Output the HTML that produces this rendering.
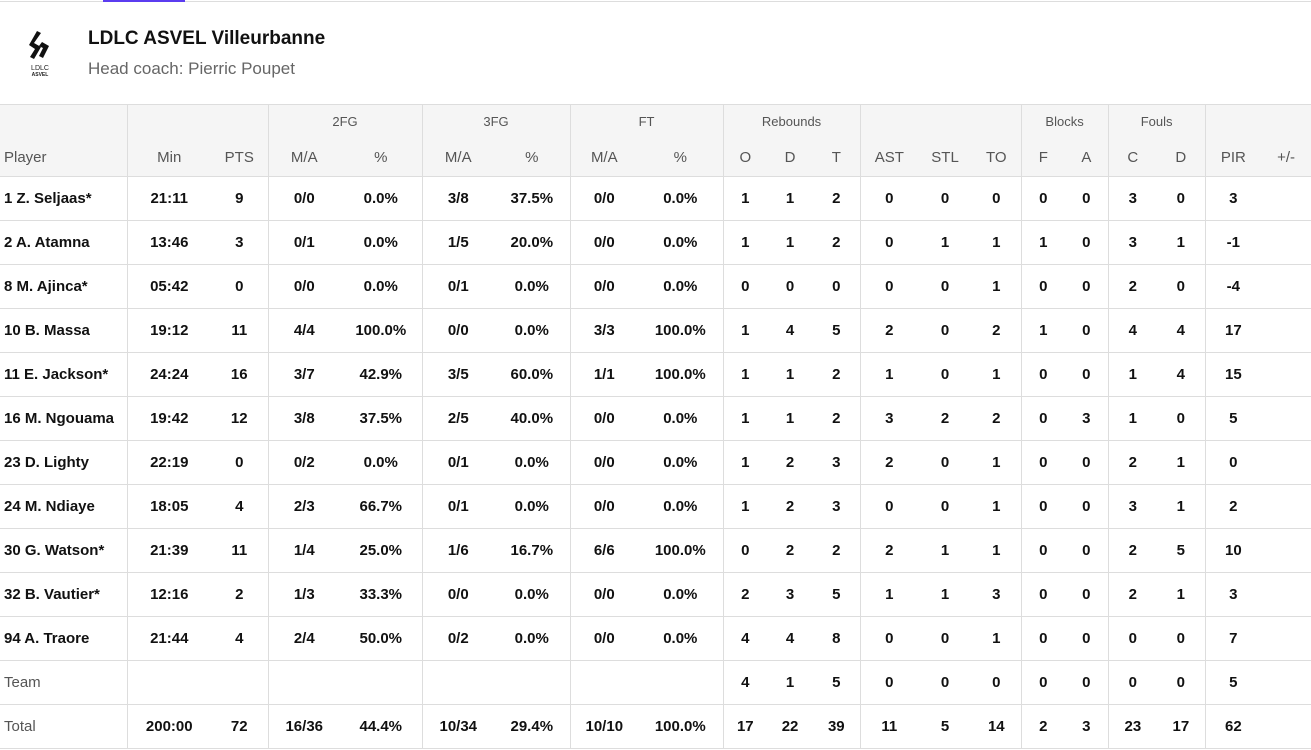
<!DOCTYPE html>
<html><head><meta charset="utf-8">
<style>
*{margin:0;padding:0;box-sizing:border-box}
body{width:1311px;height:750px;background:#fff;font-family:"Liberation Sans",sans-serif;position:relative;overflow:hidden;color:#111}
.topline{position:absolute;left:0;top:1px;width:1311px;height:1px;background:#ddd}
.purple{position:absolute;left:103px;top:0;width:82px;height:2px;background:#5b3cf0}
.title{position:absolute;left:88px;top:28px;font-size:19px;font-weight:bold;color:#111}
.sub{position:absolute;left:88px;top:59px;font-size:17px;color:#666}
table{position:absolute;left:0;top:104px;border-collapse:collapse;table-layout:fixed;width:1311px}
td{text-align:center;font-size:15px;font-weight:bold;height:44px;border-bottom:1px solid #ddd;white-space:nowrap;padding:0}
tr.h td{background:#f5f5f5;font-weight:normal;color:#555;height:38px;font-size:15px}
tr.g td{background:#f5f5f5;font-weight:normal;color:#555;height:34px;font-size:13px;border-bottom:none;border-top:1px solid #ddd}
td.l{text-align:left;padding-left:4px}
td.s{border-left:1px solid #ddd}
td.n{font-weight:normal;color:#555}
</style></head><body>
<div class="topline"></div><div class="purple"></div>
<svg style="position:absolute;left:20px;top:28px" width="40" height="52" viewBox="0 0 40 52">
<polygon points="17,3 21,5 14,15 21,19 14,31 10,29 15,21 9,17" fill="#111"/>
<polygon points="22,14 29,18 23,30 19,28 23,20 19,18" fill="#111"/>
<text x="20" y="42" font-size="7" text-anchor="middle" font-family="Liberation Sans" fill="#222">LDLC</text>
<text x="20" y="48" font-size="5" font-weight="bold" text-anchor="middle" font-family="Liberation Sans" fill="#222">ASVEL</text>
</svg>
<div class="title">LDLC ASVEL Villeurbanne</div>
<div class="sub">Head coach: Pierric Poupet</div>
<table>
<colgroup><col style="width:127px"><col style="width:84px"><col style="width:57px"><col style="width:72px"><col style="width:82px"><col style="width:72px"><col style="width:76px"><col style="width:68px"><col style="width:85px"><col style="width:44px"><col style="width:46px"><col style="width:47px"><col style="width:58px"><col style="width:54px"><col style="width:49px"><col style="width:44px"><col style="width:43px"><col style="width:49px"><col style="width:48px"><col style="width:56px"><col style="width:50px"></colgroup>
<tr class="g"><td></td><td class="s" colspan="2"></td><td class="s" colspan="2">2FG</td><td class="s" colspan="2">3FG</td><td class="s" colspan="2">FT</td><td class="s" colspan="3">Rebounds</td><td class="s" colspan="3"></td><td class="s" colspan="2">Blocks</td><td class="s" colspan="2">Fouls</td><td class="s" colspan="2"></td></tr>
<tr class="h"><td class="l">Player</td><td class="s">Min</td><td>PTS</td><td class="s">M/A</td><td>%</td><td class="s">M/A</td><td>%</td><td class="s">M/A</td><td>%</td><td class="s">O</td><td>D</td><td>T</td><td class="s">AST</td><td>STL</td><td>TO</td><td class="s">F</td><td>A</td><td class="s">C</td><td>D</td><td class="s">PIR</td><td>+/-</td></tr>
<tr><td class="l">1 Z. Seljaas*</td><td class="s">21:11</td><td>9</td><td class="s">0/0</td><td>0.0%</td><td class="s">3/8</td><td>37.5%</td><td class="s">0/0</td><td>0.0%</td><td class="s">1</td><td>1</td><td>2</td><td class="s">0</td><td>0</td><td>0</td><td class="s">0</td><td>0</td><td class="s">3</td><td>0</td><td class="s">3</td><td></td></tr>
<tr><td class="l">2 A. Atamna</td><td class="s">13:46</td><td>3</td><td class="s">0/1</td><td>0.0%</td><td class="s">1/5</td><td>20.0%</td><td class="s">0/0</td><td>0.0%</td><td class="s">1</td><td>1</td><td>2</td><td class="s">0</td><td>1</td><td>1</td><td class="s">1</td><td>0</td><td class="s">3</td><td>1</td><td class="s">-1</td><td></td></tr>
<tr><td class="l">8 M. Ajinca*</td><td class="s">05:42</td><td>0</td><td class="s">0/0</td><td>0.0%</td><td class="s">0/1</td><td>0.0%</td><td class="s">0/0</td><td>0.0%</td><td class="s">0</td><td>0</td><td>0</td><td class="s">0</td><td>0</td><td>1</td><td class="s">0</td><td>0</td><td class="s">2</td><td>0</td><td class="s">-4</td><td></td></tr>
<tr><td class="l">10 B. Massa</td><td class="s">19:12</td><td>11</td><td class="s">4/4</td><td>100.0%</td><td class="s">0/0</td><td>0.0%</td><td class="s">3/3</td><td>100.0%</td><td class="s">1</td><td>4</td><td>5</td><td class="s">2</td><td>0</td><td>2</td><td class="s">1</td><td>0</td><td class="s">4</td><td>4</td><td class="s">17</td><td></td></tr>
<tr><td class="l">11 E. Jackson*</td><td class="s">24:24</td><td>16</td><td class="s">3/7</td><td>42.9%</td><td class="s">3/5</td><td>60.0%</td><td class="s">1/1</td><td>100.0%</td><td class="s">1</td><td>1</td><td>2</td><td class="s">1</td><td>0</td><td>1</td><td class="s">0</td><td>0</td><td class="s">1</td><td>4</td><td class="s">15</td><td></td></tr>
<tr><td class="l">16 M. Ngouama</td><td class="s">19:42</td><td>12</td><td class="s">3/8</td><td>37.5%</td><td class="s">2/5</td><td>40.0%</td><td class="s">0/0</td><td>0.0%</td><td class="s">1</td><td>1</td><td>2</td><td class="s">3</td><td>2</td><td>2</td><td class="s">0</td><td>3</td><td class="s">1</td><td>0</td><td class="s">5</td><td></td></tr>
<tr><td class="l">23 D. Lighty</td><td class="s">22:19</td><td>0</td><td class="s">0/2</td><td>0.0%</td><td class="s">0/1</td><td>0.0%</td><td class="s">0/0</td><td>0.0%</td><td class="s">1</td><td>2</td><td>3</td><td class="s">2</td><td>0</td><td>1</td><td class="s">0</td><td>0</td><td class="s">2</td><td>1</td><td class="s">0</td><td></td></tr>
<tr><td class="l">24 M. Ndiaye</td><td class="s">18:05</td><td>4</td><td class="s">2/3</td><td>66.7%</td><td class="s">0/1</td><td>0.0%</td><td class="s">0/0</td><td>0.0%</td><td class="s">1</td><td>2</td><td>3</td><td class="s">0</td><td>0</td><td>1</td><td class="s">0</td><td>0</td><td class="s">3</td><td>1</td><td class="s">2</td><td></td></tr>
<tr><td class="l">30 G. Watson*</td><td class="s">21:39</td><td>11</td><td class="s">1/4</td><td>25.0%</td><td class="s">1/6</td><td>16.7%</td><td class="s">6/6</td><td>100.0%</td><td class="s">0</td><td>2</td><td>2</td><td class="s">2</td><td>1</td><td>1</td><td class="s">0</td><td>0</td><td class="s">2</td><td>5</td><td class="s">10</td><td></td></tr>
<tr><td class="l">32 B. Vautier*</td><td class="s">12:16</td><td>2</td><td class="s">1/3</td><td>33.3%</td><td class="s">0/0</td><td>0.0%</td><td class="s">0/0</td><td>0.0%</td><td class="s">2</td><td>3</td><td>5</td><td class="s">1</td><td>1</td><td>3</td><td class="s">0</td><td>0</td><td class="s">2</td><td>1</td><td class="s">3</td><td></td></tr>
<tr><td class="l">94 A. Traore</td><td class="s">21:44</td><td>4</td><td class="s">2/4</td><td>50.0%</td><td class="s">0/2</td><td>0.0%</td><td class="s">0/0</td><td>0.0%</td><td class="s">4</td><td>4</td><td>8</td><td class="s">0</td><td>0</td><td>1</td><td class="s">0</td><td>0</td><td class="s">0</td><td>0</td><td class="s">7</td><td></td></tr>
<tr><td class="l n">Team</td><td class="s"></td><td></td><td class="s"></td><td></td><td class="s"></td><td></td><td class="s"></td><td></td><td class="s">4</td><td>1</td><td>5</td><td class="s">0</td><td>0</td><td>0</td><td class="s">0</td><td>0</td><td class="s">0</td><td>0</td><td class="s">5</td><td></td></tr>
<tr><td class="l n">Total</td><td class="s">200:00</td><td>72</td><td class="s">16/36</td><td>44.4%</td><td class="s">10/34</td><td>29.4%</td><td class="s">10/10</td><td>100.0%</td><td class="s">17</td><td>22</td><td>39</td><td class="s">11</td><td>5</td><td>14</td><td class="s">2</td><td>3</td><td class="s">23</td><td>17</td><td class="s">62</td><td></td></tr>
</table>
</body></html>
